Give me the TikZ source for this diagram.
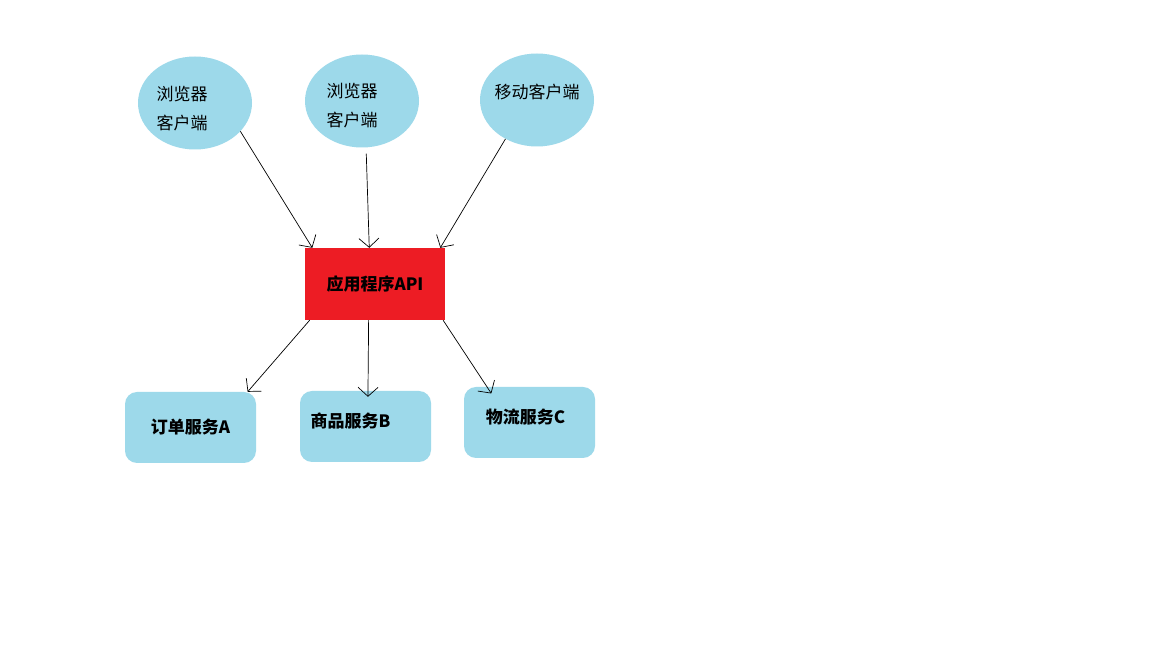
\documentclass[tikz,border=0pt]{standalone}
\usepackage{fontspec}
\newfontfamily\cjk{Noto Sans CJK SC}
\usetikzlibrary{shapes.geometric,arrows.meta}
\definecolor{skyblue}{HTML}{9DD9EA}
\definecolor{apired}{HTML}{ED1C24}
\tikzset{
	client/.style = {ellipse, fill = skyblue, minimum width = 114pt, minimum height = 93pt, inner sep = 0pt},
	service/.style = {rectangle, rounded corners = 12pt, fill = skyblue, minimum width = 131pt, minimum height = 71pt, inner sep = 0pt},
	api/.style = {rectangle, fill = apired, minimum width = 140pt, minimum height = 72pt, inner sep = 0pt},
	plain/.style = {font = \cjk\fontsize{17}{29}\selectfont, align = left, inner sep = 0pt},
	bold/.style = {font = \cjk\bfseries\fontsize{17}{20}\selectfont, inner sep = 0pt},
	arr/.style = {-{Straight Barb[length = 9pt, width = 20pt]}, line width = 0.7pt}
}
\begin{document}
\begin{tikzpicture}[x = 1pt, y = 1pt]
	\useasboundingbox [fill = white] (0,0) rectangle (1152,648);
	\node [client] (e1) at (195,545) {};
	\node [client] (e2) at (362,547) {};
	\node [client] (e3) at (537,548) {};
	\node [plain] (t1) at ([xshift = -13pt, yshift = -6pt] e1.center) {浏览器\\客户端};
	\node [plain] (t2) at ([xshift = -10pt, yshift = -5pt] e2.center) {浏览器\\客户端};
	\node [plain] (t3) at ([yshift = 8pt] e3.center) {移动客户端};
	\node [api, bold] (api) at (375,364) {应用程序API};
	\node [service] (a) at (190.5,220.5) {};
	\node [service] (b) at (365.5,221.5) {};
	\node [service] (c) at (529.5,225.5) {};
	\node [bold] (ta) at (a.center) {订单服务A};
	\node [bold] (tb) at ([xshift = -15pt, yshift = 5pt] b.center) {商品服务B};
	\node [bold] (tc) at ([xshift = -4pt, yshift = 5pt] c.center) {物流服务C};
	\draw [arr] (e1.-32) -- (api.150.6);
	\draw [arr, shorten <= 6pt] (e2.-85) -- (api.99.5);
	\draw [arr] (e3.231) -- (api.29.4);
	\draw [arr] (api.209.4) -- (a.32);
	\draw [arr, shorten > = -6pt] (api.260.5) -- (b.86);
	\draw [arr, shorten > = -8pt] (api.-28) -- (c.140);
\end{tikzpicture}
\end{document}
